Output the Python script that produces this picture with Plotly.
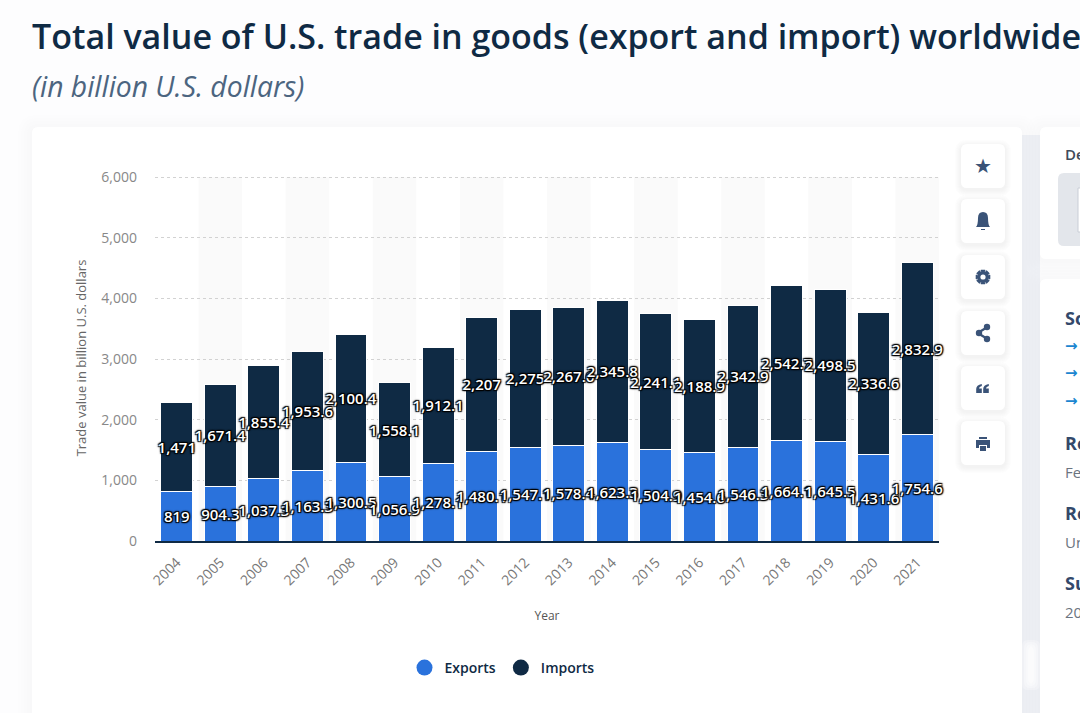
import math
import plotly.graph_objects as go

years = [str(y) for y in range(2004, 2022)]
exports = [819, 904.3, 1037.3, 1163.3, 1300.5, 1056.9, 1278.1, 1480.1, 1547.1, 1578.4, 1623.3, 1504.9, 1454.6, 1546.3, 1664.1, 1645.5, 1431.6, 1754.6]
imports = [1471, 1671.4, 1855.4, 1953.6, 2100.4, 1558.1, 1912.1, 2207, 2275, 2267.6, 2345.8, 2241.1, 2188.9, 2342.9, 2542.7, 2498.5, 2336.6, 2832.9]
y_ticks = [0, 1000, 2000, 3000, 4000, 5000, 6000]
y_top = 6033

W, H = 1080, 713
L, R, T, B = 155, 939, 175, 541
NAVY, BLUE, ICON = "#0f2a44", "#2a72dc", "#3a5378"
SHADOW = "-1px -1px 1px #000,1px -1px 1px #000,-1px 1px 1px #000,1px 1px 1px #000,0 0 3px #000"

def px(x): return (x - L) / (R - L)
def py(y): return (B - y) / (B - T)

shapes, annos = [], []

def rrect(x0, y0, x1, y1, r, fill, op=1, layer="below"):
    p = (f"M{px(x0+r)},{py(y0)} L{px(x1-r)},{py(y0)} Q{px(x1)},{py(y0)} {px(x1)},{py(y0+r)} "
         f"L{px(x1)},{py(y1-r)} Q{px(x1)},{py(y1)} {px(x1-r)},{py(y1)} "
         f"L{px(x0+r)},{py(y1)} Q{px(x0)},{py(y1)} {px(x0)},{py(y1-r)} "
         f"L{px(x0)},{py(y0+r)} Q{px(x0)},{py(y0)} {px(x0+r)},{py(y0)} Z")
    shapes.append(dict(type="path", path=p, xref="paper", yref="paper", fillcolor=fill,
                       opacity=op, line_width=0, layer=layer))

def card(x0, y0, x1, y1, r=6, spread=14, op=0.012):
    for s in range(spread, 0, -3 if spread > 8 else -1):
        rrect(x0 - s, y0 - s + 2, x1 + s, y1 + s + 2, r + s, "#8a94b0", op)
    rrect(x0, y0, x1, y1, r, "#ffffff", 1)

def text(x, y, s, size, color, weight=400, anchor="left", style="normal", family="Open Sans", angle=0):
    offset = -2 if anchor == "left" else 0
    annos.append(dict(x=px(x + offset), y=py(y), xref="paper", yref="paper", text=s, showarrow=False,
                      xanchor=anchor, yanchor="middle", textangle=angle,
                      font=dict(size=size, color=color, family=family, weight=weight, style=style)))

# page gap between chart card and side cards
shapes.append(dict(type="rect", xref="paper", yref="paper", x0=px(1022), x1=px(1040), y0=py(135), y1=py(713),
                   fillcolor="#f0f2f7", line_width=0, layer="below"))
card(32, 127, 1022, 740)
card(1040, 127, 1100, 259)
card(1040, 279, 1100, 740)
# pale smudge in the gap
for dx, op in ((0, 0.25), (2, 0.3), (4, 0.35), (6, 0.4)):
    rrect(1022 + dx, 640 + dx, 1040 - dx, 690 - dx, 6, "#ffffff", op)

# alternating column bands, one per even category, aligned through the category axis
for i in range(1, len(years), 2):
    shapes.append(dict(type="rect", xref="x", yref="y", x0=i - 0.5, x1=i + 0.5, y0=0, y1=max(y_ticks),
                       fillcolor="#fafafa", line_width=0, layer="below"))

# grey box in the first side card
rrect(1058, 173, 1100, 246, 6, "#e3e6eb")
shapes.append(dict(type="rect", xref="paper", yref="paper", x0=px(1078), x1=px(1090), y0=py(188), y1=py(232),
                   fillcolor="#ffffff", line=dict(color="#c9ced6", width=1), layer="below"))

# action buttons
btn_y = [144, 199, 255, 311, 366, 421]
for y in btn_y:
    card(961, y, 1005, y + 44, r=6, spread=6, op=0.018)
cx = 983
def ic(path_pts, fill=ICON):
    shapes.append(dict(type="path", path=path_pts, xref="paper", yref="paper", fillcolor=fill,
                       line_width=0, layer="above"))
def P(x, y): return f"{px(x)},{py(y)}"
def circle(x, y, r, fill=ICON):
    shapes.append(dict(type="circle", xref="paper", yref="paper", x0=px(x - r), x1=px(x + r),
                       y0=py(y + r), y1=py(y - r), fillcolor=fill, line_width=0, layer="above"))
# star
text(cx, 166, "★", 20, ICON, family="DejaVu Sans", anchor="center")
# bell
ic(f"M{P(cx-7,227)} Q{P(cx-5,225)} {P(cx-5,218)} Q{P(cx-5,212)} {P(cx,212)} Q{P(cx+5,212)} {P(cx+5,218)} Q{P(cx+5,225)} {P(cx+7,227)} Z")
ic(f"M{P(cx-2,229)} L{P(cx+2,229)} L{P(cx+2,230)} L{P(cx-2,230)} Z")
# gear: eight teeth round a ring
gy = 277
pts = []
for k in range(8):
    a = k * math.pi / 4
    for da, rad in ((-0.28, 7.6), (0.28, 7.6), (0.5, 5.6), (math.pi / 4 - 0.5, 5.6)):
        pts.append(P(cx + rad * math.cos(a + da), gy + rad * math.sin(a + da)))
ic("M" + " L".join(pts) + " Z")
circle(cx, gy, 2.6, "#ffffff")
# share
ic(f"M{P(cx+4,326)} L{P(cx+5,328)} L{P(cx-3,333)} L{P(cx+5,338)} L{P(cx+4,340)} L{P(cx-6,334)} L{P(cx-6,332)} Z")
circle(cx - 4, 333, 3.2); circle(cx + 4, 327, 3.2); circle(cx + 4, 339, 3.2)
# quote marks
for qx in (cx - 4, cx + 3):
    ic(f"M{P(qx-2.8,389)} Q{P(qx-2.8,385)} {P(qx+2.8,384)} L{P(qx+2.8,386)} Q{P(qx,386.5)} {P(qx,388.5)} L{P(qx+2.8,388.5)} L{P(qx+2.8,393)} L{P(qx-2.8,393)} Z")
# print
ic(f"M{P(cx-7,440)} L{P(cx+7,440)} L{P(cx+7,448)} L{P(cx+4,448)} L{P(cx+4,445)} L{P(cx-4,445)} L{P(cx-4,448)} L{P(cx-7,448)} Z")
ic(f"M{P(cx-4,437)} L{P(cx+4,437)} L{P(cx+4,439)} L{P(cx-4,439)} Z")
ic(f"M{P(cx-3,446)} L{P(cx+3,446)} L{P(cx+3,451)} L{P(cx-3,451)} Z")

# page titles
text(32, 36, "Total value of U.S. trade in goods (export and import) worldwide", 34, NAVY, weight=600)
text(32, 86, "(in billion U.S. dollars)", 28.3, "#4c6580", style="italic")

# side panel text (cut off by the page edge)
text(1065, 154, "De", 15, "#3f4a5a", weight=600)
text(1065, 318, "So", 18, "#33496b", weight=700)
for y in (346, 373, 401):
    text(1065, y, "→", 15, "#1a86d0", weight=700, family="DejaVu Sans")
text(1065, 443, "Re", 18, "#33496b", weight=700)
text(1065, 472, "Fe", 15, "#6b7480")
text(1065, 513, "Re", 18, "#33496b", weight=700)
text(1065, 542, "Un", 15, "#6b7480")
text(1065, 583, "Su", 18, "#33496b", weight=700)
text(1065, 612, "20", 15, "#6b7480")

def labels(vals):
    return [f"{v:,.1f}" if v != int(v) else f"{int(v):,}" for v in vals]

label_font = dict(size=15, color="#ffffff", family="Open Sans", weight=600, shadow=SHADOW)

fig = go.Figure()
for name, vals, col in (("Exports", exports, BLUE), ("Imports", imports, NAVY)):
    fig.add_trace(go.Bar(x=years, y=vals, name=name, showlegend=False, marker=dict(color=col, line=dict(color="#ffffff", width=1)),
                         text=labels(vals), textposition="inside", insidetextanchor="middle", textangle=0,
                         constraintext="none", cliponaxis=False, insidetextfont=label_font))
for name, col in (("Exports", BLUE), ("Imports", NAVY)):
    fig.add_trace(go.Scatter(x=[None], y=[None], mode="markers", name=name, marker=dict(color=col, size=16, symbol="circle")))

fig.update_layout(
    width=W, height=H, margin=dict(l=L, r=W - R, t=T, b=H - B, pad=0), autosize=False,
    paper_bgcolor="#fdfdfe", plot_bgcolor="rgba(0,0,0,0)",
    barmode="stack", bargap=0.27, shapes=shapes, annotations=annos,
    font=dict(family="Open Sans"),
    legend=dict(orientation="h", traceorder="normal", x=px(502), xanchor="center", y=py(668), yanchor="middle",
                font=dict(size=14, color=NAVY, family="Open Sans", weight=600), itemwidth=30, bgcolor="rgba(0,0,0,0)"),
    xaxis=dict(type="category", categoryorder="array", categoryarray=years, range=[-0.5, len(years) - 0.5],
               tickangle=-45, tickfont=dict(size=14, color="#777777", family="Open Sans"), showgrid=False, ticks="",
               ticklabelstandoff=6, showline=True, linecolor=NAVY, linewidth=1.5,
               title=dict(text="Year", font=dict(size=12, color="#555555", family="Open Sans"), standoff=24)),
    yaxis=dict(range=[0, y_top], tickvals=y_ticks, tickformat=",d", tickfont=dict(size=14, color="#888888", family="Open Sans"),
               gridcolor="#d2d2d2", griddash="dot", gridwidth=1, zeroline=False, showline=False, ticks="", ticklabelstandoff=17,
               title=dict(text="Trade value in billion U.S. dollars", font=dict(size=13, color="#666666", family="Open Sans"), standoff=11)),
)
fig.write_html("out.html", config=dict(displayModeBar=False),
               post_script="document.body.style.margin='0';document.body.style.overflow='hidden';")
